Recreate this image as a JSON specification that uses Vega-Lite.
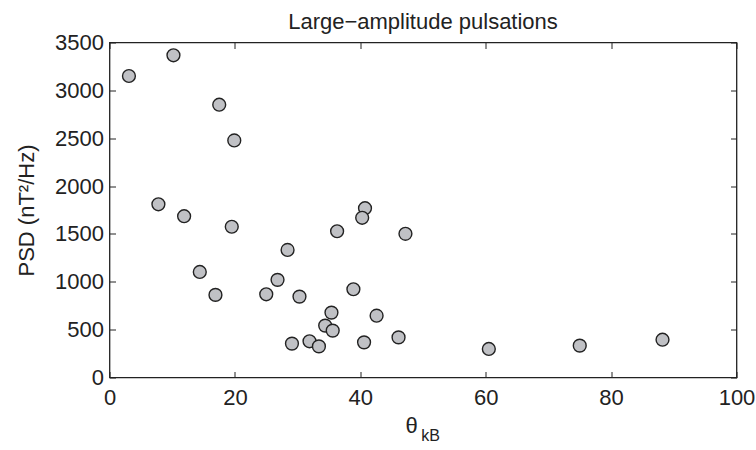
{
  "$schema": "https://vega.github.io/schema/vega-lite/v6.json",
  "width": 627,
  "height": 335,
  "autosize": {"type": "none"},
  "padding": {"left": 109.5, "top": 42.5, "right": 19, "bottom": 72},
  "background": "white",
  "config": {
    "font": "Liberation Sans",
    "view": {"stroke": "#222222", "strokeWidth": 1.3}
  },
  "title": {
    "text": "Large−amplitude pulsations",
    "font": "Liberation Sans",
    "fontSize": 22,
    "fontWeight": "normal",
    "color": "#222222",
    "offset": 0,
    "dy": 2
  },
  "data": {
    "values": [
      {"theta": 3.1, "psd": 3150},
      {"theta": 10.2, "psd": 3366},
      {"theta": 17.5, "psd": 2850},
      {"theta": 19.9, "psd": 2477},
      {"theta": 7.8, "psd": 1810},
      {"theta": 11.9, "psd": 1685},
      {"theta": 19.5, "psd": 1575},
      {"theta": 40.75, "psd": 1769},
      {"theta": 40.3, "psd": 1669},
      {"theta": 36.3, "psd": 1528},
      {"theta": 47.2, "psd": 1501},
      {"theta": 28.4, "psd": 1333},
      {"theta": 14.4, "psd": 1103},
      {"theta": 26.8, "psd": 1020},
      {"theta": 16.9, "psd": 863},
      {"theta": 25.0, "psd": 869},
      {"theta": 30.3, "psd": 845},
      {"theta": 38.9, "psd": 922},
      {"theta": 35.4, "psd": 678},
      {"theta": 42.6, "psd": 646},
      {"theta": 34.4, "psd": 542},
      {"theta": 35.6, "psd": 490},
      {"theta": 29.1, "psd": 354},
      {"theta": 31.9, "psd": 378},
      {"theta": 33.4, "psd": 325},
      {"theta": 40.6, "psd": 367},
      {"theta": 46.1, "psd": 419},
      {"theta": 60.5, "psd": 298},
      {"theta": 75.0, "psd": 333},
      {"theta": 88.2, "psd": 395}
    ]
  },
  "layer": [
    {
      "mark": {"type": "point", "shape": "circle", "filled": true, "size": 165, "fill": "#c0c1c5", "stroke": "#222222", "strokeWidth": 1.4, "opacity": 1},
      "encoding": {
        "x": {"field": "theta", "type": "quantitative", "scale": {"domain": [0, 100], "nice": false},
          "axis": {"orient": "bottom", "values": [0, 20, 40, 60, 80, 100], "format": "d", "offset": -6, "domain": false, "grid": false,
            "ticks": true, "tickSize": 6, "tickColor": "#222222", "tickWidth": 1,
            "labelFont": "Liberation Sans", "labelFontSize": 22, "labelColor": "#222222", "labelPadding": 10, "labelFlush": false,
            "title": "θ", "titleFont": "Liberation Sans", "titleFontSize": 22, "titleFontWeight": "normal", "titleColor": "#222222",
            "titleBaseline": "alphabetic", "titleX": 301.5, "titleY": 60.5}},
        "y": {"field": "psd", "type": "quantitative", "scale": {"domain": [0, 3500], "nice": false},
          "axis": {"orient": "left", "values": [0, 500, 1000, 1500, 2000, 2500, 3000, 3500], "format": "d", "offset": -6, "domain": false, "grid": false,
            "ticks": true, "tickSize": 6, "tickColor": "#222222", "tickWidth": 1,
            "labelFont": "Liberation Sans", "labelFontSize": 22, "labelColor": "#222222", "labelPadding": 6, "labelFlush": false,
            "title": "PSD (nT²/Hz)", "titleFont": "Liberation Sans", "titleFontSize": 22, "titleFontWeight": "normal", "titleColor": "#222222",
            "titleBaseline": "alphabetic", "titleX": -82.5, "titleY": 167.5, "titleAngle": -90}}
      }
    },
    {
      "mark": {"type": "point", "opacity": 0},
      "encoding": {
        "x": {"field": "theta", "type": "quantitative", "axis": {"orient": "top", "values": [0, 20, 40, 60, 80, 100], "offset": -6, "domain": false, "grid": false, "tickSize": 6, "tickColor": "#222222", "tickWidth": 1, "labels": false, "title": null}},
        "y": {"field": "psd", "type": "quantitative", "axis": {"orient": "right", "values": [0, 500, 1000, 1500, 2000, 2500, 3000, 3500], "offset": -6, "domain": false, "grid": false, "tickSize": 6, "tickColor": "#222222", "tickWidth": 1, "labels": false, "title": null}}
      }
    },
    {
      "mark": {"type": "point", "opacity": 0},
      "encoding": {
        "x": {"field": "theta", "type": "quantitative", "axis": {"orient": "bottom", "domain": false, "grid": false, "ticks": false, "labels": false,
          "title": "kB", "titleFont": "Liberation Sans", "titleFontSize": 16, "titleFontWeight": "normal", "titleColor": "#222222",
          "titleBaseline": "alphabetic", "titleX": 320.5, "titleY": 63}}
      }
    }
  ],
  "resolve": {"axis": {"x": "independent", "y": "independent"}}
}
